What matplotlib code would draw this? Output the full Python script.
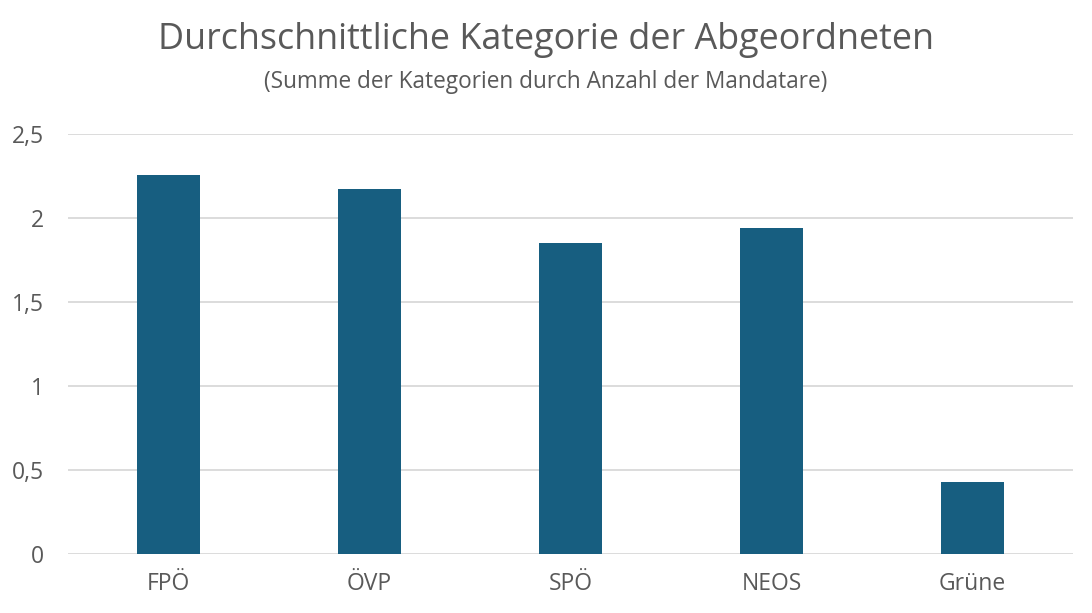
import matplotlib.pyplot as plt

# Daten
parteien = ['FPÖ', 'ÖVP', 'SPÖ', 'NEOS', 'Grüne']
werte = [2.256, 2.173, 1.851, 1.940, 0.432]
y_ticks = [0, 0.5, 1, 1.5, 2, 2.5]
y_labels = ['0', '0,5', '1', '1,5', '2', '2,5']

plt.rcParams['font.family'] = ['Open Sans', 'DejaVu Sans']
grau = '#595959'

fig = plt.figure(figsize=(10.92, 6.13), dpi=100)
ax = fig.add_axes([0.0623, 0.0958, 0.9203, 0.6856])

ax.bar(parteien, werte, width=0.315, color='#175E80', zorder=3)

ax.set_xlim(-0.5, 4.5)
ax.set_ylim(0, 2.5)
ax.set_yticks(y_ticks)
ax.set_yticklabels(y_labels)
ax.grid(axis='y', color='#D9D9D9', linewidth=1.3, zorder=0)
for s in ax.spines.values():
    s.set_visible(False)
ax.tick_params(length=0, labelsize=16.5, colors=grau)
ax.tick_params(axis='y', pad=17)
ax.tick_params(axis='x', pad=13)

fig.text(0.5, 0.934, 'Durchschnittliche Kategorie der Abgeordneten',
         ha='center', va='center', fontsize=25.8, color=grau)
fig.text(0.5, 0.867, '(Summe der Kategorien durch Anzahl der Mandatare)',
         ha='center', va='center', fontsize=16.3, color=grau)

fig.savefig('out.png', dpi=100)
